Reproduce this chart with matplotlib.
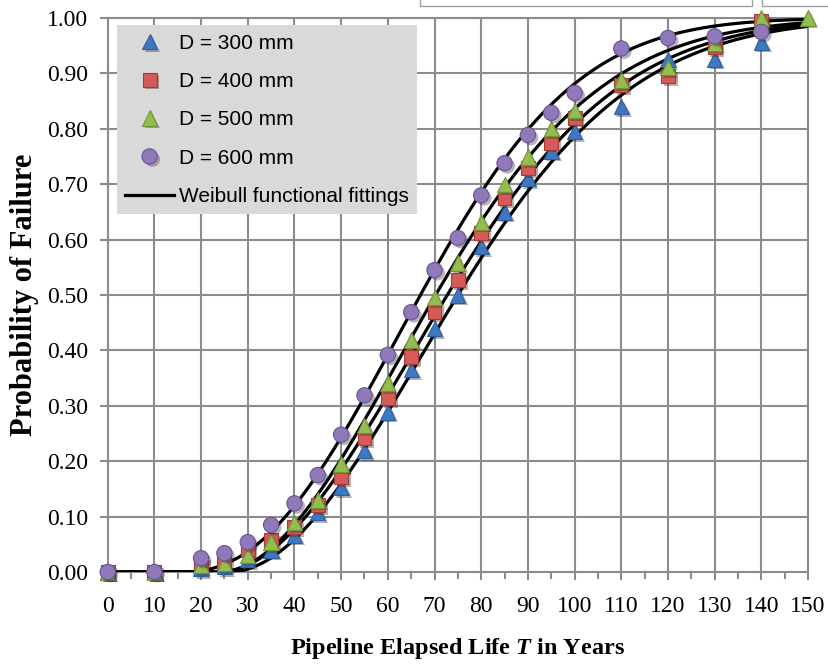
import matplotlib
matplotlib.use("Agg")
import matplotlib.pyplot as plt
import matplotlib.patheffects as pe
from matplotlib.patches import Rectangle
from matplotlib.ticker import MultipleLocator, FormatStrFormatter
import numpy as np

plt.rcParams['mathtext.fontset'] = 'custom'
plt.rcParams['mathtext.it'] = 'Liberation Serif:italic:bold'
plt.rcParams['mathtext.rm'] = 'Liberation Serif:bold'

years = [0, 10, 20, 25, 30, 35, 40, 45, 50, 55, 60, 65, 70, 75, 80, 85, 90, 95, 100, 110, 120, 130, 140]
years_500 = years + [150]
p300 = [0, 0, 0.006, 0.010, 0.022, 0.040, 0.067, 0.108, 0.153, 0.220, 0.289, 0.365, 0.440, 0.500,
        0.587, 0.650, 0.711, 0.760, 0.795, 0.840, 0.925, 0.926, 0.957]
p400 = [0, 0, 0.015, 0.018, 0.040, 0.058, 0.081, 0.121, 0.171, 0.242, 0.314, 0.388, 0.469, 0.527,
        0.612, 0.675, 0.729, 0.775, 0.820, 0.879, 0.895, 0.948, 0.995]
p500 = [0, 0, 0.012, 0.016, 0.030, 0.054, 0.090, 0.130, 0.195, 0.265, 0.341, 0.419, 0.495, 0.558,
        0.632, 0.700, 0.749, 0.800, 0.833, 0.888, 0.911, 0.955, 1.000, 1.000]
p600 = [0, 0, 0.025, 0.034, 0.054, 0.085, 0.124, 0.175, 0.248, 0.319, 0.392, 0.469, 0.545, 0.603,
        0.680, 0.738, 0.789, 0.829, 0.865, 0.945, 0.964, 0.967, 0.975]

# 3-parameter Weibull fits: location, scale, shape
fit300 = (26.0, 59.2, 1.94)
fit400 = (23.5, 59.3, 1.97)
fit500 = (24.0, 55.9, 1.93)
fit600 = (16.0, 60.0, 2.25)


def weibull_cdf(t, gamma, eta, beta):
    z = np.clip(t - gamma, 0, None) / eta
    return 1 - np.exp(-z ** beta)


fig = plt.figure(figsize=(8.29, 6.66), dpi=100)
ax = fig.add_axes([0.1299, 0.1411, 0.8448, 0.8318])

tt = np.linspace(0, 150, 600)
for fit in (fit300, fit400, fit500, fit600):
    ax.plot(tt, weibull_cdf(tt, *fit), color='black', lw=2.3, zorder=3)

shadow = [pe.SimplePatchShadow(offset=(2, -2), alpha=0.35), pe.Normal()]
series = [
    (years, p300, '^', '#3F78C0', '#2F5F9A', 11, 'D = 300 mm'),
    (years, p400, 's', '#D65A57', '#A33B38', 10, 'D = 400 mm'),
    (years_500, p500, '^', '#93BD4F', '#6F9234', 11, 'D = 500 mm'),
    (years, p600, 'o', '#9079B9', '#6B5495', 11, 'D = 600 mm'),
]
handles = []
for x, y, m, fc, ec, ms, lab in series:
    h, = ax.plot(x, y, ls='none', marker=m, ms=ms, mfc=fc, mec=ec, mew=0.8,
                 clip_on=False, zorder=4, path_effects=shadow, label=lab)
    handles.append(h)
line_h, = ax.plot([], [], color='black', lw=2.3, label='Weibull functional fittings')
handles.append(line_h)

ax.set_xlim(0, 150)
ax.set_ylim(0, 1)
ax.xaxis.set_major_locator(MultipleLocator(10))
ax.xaxis.set_minor_locator(MultipleLocator(5))
ax.yaxis.set_major_locator(MultipleLocator(0.1))
ax.yaxis.set_major_formatter(FormatStrFormatter('%.2f'))
ax.grid(True, which='major', color='#8C8C8C', lw=1.5, zorder=0)
ax.set_axisbelow(True)
for s in ax.spines.values():
    s.set_color('#8C8C8C')
    s.set_linewidth(1.5)
ax.tick_params(which='major', length=6, width=1.5, color='#8C8C8C', direction='out')
ax.tick_params(which='minor', length=5, width=1.5, color='#8C8C8C', direction='out')
ax.tick_params(axis='y', which='minor', length=0)
for lbl in ax.get_xticklabels() + ax.get_yticklabels():
    lbl.set_family('Liberation Serif')
    lbl.set_fontsize(17)
ax.tick_params(axis='x', pad=11)
ax.tick_params(axis='y', pad=8)

ax.set_xlabel(r'Pipeline Elapsed Life $T$ in Years', family='Liberation Serif',
              fontweight='bold', fontsize=17.5, labelpad=14)
ax.set_ylabel('Probability of Failure', family='Liberation Serif',
              fontweight='bold', fontsize=22, labelpad=6)

leg = ax.legend(handles=handles, loc='upper left', bbox_to_anchor=(0.013, 0.987),
                borderaxespad=0, frameon=True, fancybox=False, framealpha=1,
                facecolor='#D9D9D9', edgecolor='none', handlelength=2.35,
                handletextpad=0.25, labelspacing=0.93, borderpad=0.4,
                prop={'family': 'Liberation Sans', 'size': 15})
leg.set_zorder(5)

# clipped boxes peeking in at the top edge
fig.patches.append(Rectangle((420 / 829, 1 - 6 / 666), 332 / 829, 10 / 666, transform=fig.transFigure,
                             facecolor='white', edgecolor='#A0A0A0', lw=1.0))
fig.patches.append(Rectangle((762 / 829, 1 - 6 / 666), 80 / 829, 10 / 666, transform=fig.transFigure,
                             facecolor='white', edgecolor='#A0A0A0', lw=1.0))

fig.savefig('out.png', dpi=100)
